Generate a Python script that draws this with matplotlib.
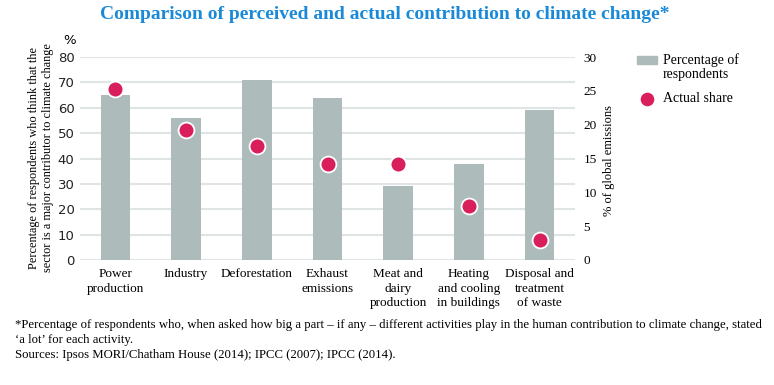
import numpy as np
import matplotlib.pyplot as plt
from matplotlib.patches import Rectangle
from matplotlib.lines import Line2D

# data
categories = ['Power\nproduction', 'Industry', 'Deforestation', 'Exhaust\nemissions',
              'Meat and\ndairy\nproduction', 'Heating\nand cooling\nin buildings',
              'Disposal and\ntreatment\nof waste']
perceived = [65, 56, 71, 64, 29, 38, 59]          # % of respondents (left axis)
actual = [25.2, 19.2, 16.8, 14.2, 14.2, 8.0, 3.0]  # % of global emissions (right axis)
left_ticks = [0, 10, 20, 30, 40, 50, 60, 70, 80]
right_ticks = [0, 5, 10, 15, 20, 25, 30]

BAR = '#adbcbb'
DOT = '#d81f5b'
GRID = '#dfe5e4'
TITLE = '#1a8ad8'
SERIF = ['Liberation Serif', 'DejaVu Serif']

fig = plt.figure(figsize=(7.74, 3.85), dpi=100)
ax = fig.add_axes([80/774, 1-260/385, 495/774, 203/385])
ax2 = ax.twinx()

x = np.arange(len(categories))
ax.bar(x, perceived, width=0.42, color=BAR, zorder=2)
ax.set_ylim(0, 80)
ax.set_xlim(-0.5, len(categories) - 0.5)
ax.set_yticks(left_ticks)
ax.yaxis.grid(True, color=GRID, lw=1.5, zorder=0)
ax.set_axisbelow(True)
ax.tick_params(axis='y', length=0, labelsize=9.5, pad=4, colors='#222222')
ax.set_xticks(x)
ax.set_xticklabels(categories, family=SERIF, fontsize=9.5, linespacing=1.25)
ax.tick_params(axis='x', length=0, pad=6)
for s in ax.spines.values():
    s.set_visible(False)

ax2.scatter(x, actual, s=130, color=DOT, edgecolor='white', linewidth=1.3, zorder=5)
ax2.set_ylim(0, 30)
ax2.set_yticks(right_ticks)
ax2.tick_params(axis='y', length=0, labelsize=9.5, pad=6)
for lbl in ax2.get_yticklabels():
    lbl.set_family(SERIF)
for s in ax2.spines.values():
    s.set_visible(False)

fig.text(0.497, 0.962, 'Comparison of perceived and actual contribution to climate change*',
         ha='center', va='center', fontsize=14, fontweight='bold', color=TITLE, family=SERIF)
fig.text(70/774, 1-40/385, '%', ha='center', va='center', fontsize=9.5)
fig.text(41/774, 1-158/385,
         'Percentage of respondents who think that the\nsector is a major contributor to climate change',
         rotation=90, ha='center', va='center', fontsize=8.8, family=SERIF, linespacing=1.2)
fig.text(609/774, 1-160/385, '% of global emissions', rotation=90, ha='center', va='center',
         fontsize=9, family=SERIF)

# legend
fig.patches.append(Rectangle((637/774, 1-64/385), 20/774, 8/385, transform=fig.transFigure,
                             color=BAR, figure=fig))
fig.text(663/774, 1-67/385, 'Percentage of\nrespondents', ha='left', va='center',
         fontsize=10, family=SERIF, linespacing=1.15)
fig.lines.append(Line2D([647/774], [1-99/385], marker='o', ms=11, color=DOT, mec='white',
                        mew=1.2, transform=fig.transFigure, figure=fig))
fig.text(663/774, 1-99/385, 'Actual share', ha='left', va='center', fontsize=10, family=SERIF)

# footnote
fig.text(15/774, 1-319/385,
         '*Percentage of respondents who, when asked how big a part \u2013 if any \u2013 different '
         'activities play in the human contribution to climate change, stated\n'
         '\u2018a lot\u2019 for each activity.\n'
         'Sources: Ipsos MORI/Chatham House (2014); IPCC (2007); IPCC (2014).',
         ha='left', va='top', fontsize=9.2, family=SERIF, linespacing=1.32)

fig.savefig('out.png', dpi=100)
